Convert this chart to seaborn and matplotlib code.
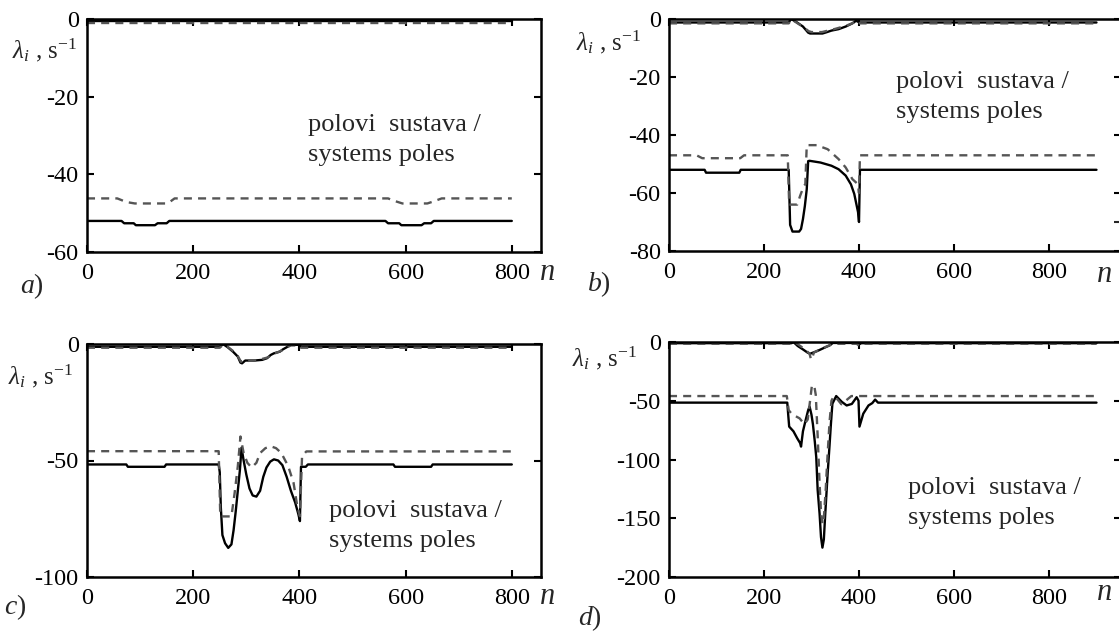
import numpy as np
import pandas as pd
import matplotlib
matplotlib.use("Agg")
import matplotlib.pyplot as plt
import seaborn as sns
from matplotlib.ticker import FixedLocator

# ---------------- data ----------------
# panel a
a_top_solid_n = [0, 800]
a_top_solid_v = [-0.6, -0.6]
a_top_dash_n = [0, 800]
a_top_dash_v = [-1.1, -1.1]
a_low_dash_n = [0, 57, 68, 77, 90, 150, 157, 165, 567, 578, 594, 641, 652, 668, 800]
a_low_dash_v = [-46.2, -46.2, -46.8, -47.2, -47.5, -47.5, -47.0, -46.2, -46.2, -46.8, -47.5, -47.5, -47.0, -46.2, -46.2]
a_low_solid_n = [0, 65, 70, 88, 92, 128, 133, 150, 155, 562, 567, 588, 592, 630, 635, 648, 653, 800]
a_low_solid_v = [-52, -52, -52.6, -52.6, -53.1, -53.1, -52.6, -52.6, -52, -52, -52.6, -52.6, -53.1, -53.1, -52.6, -52.6, -52, -52]

# panel b
b_top_solid_n = [0, 252, 257, 267, 282, 293, 297, 323, 331, 342, 357, 372, 386, 394, 401, 900]
b_top_solid_v = [-1.2, -1.2, 0, -0.9, -2.6, -4.7, -5.0, -5.0, -4.6, -4.0, -3.5, -2.6, -1.5, -0.6, -1.2, -1.2]
b_top_dash_n = [0, 252, 258, 268, 283, 294, 300, 322, 335, 350, 365, 380, 392, 398, 402, 900]
b_top_dash_v = [-1.5, -1.5, -0.2, -1.2, -2.8, -4.2, -4.5, -4.5, -4.0, -3.4, -2.7, -1.9, -1.0, -0.6, -1.5, -1.5]
b_low_dash_n = [0, 58, 70, 150, 158, 250, 253, 270, 276, 284, 287, 290, 311, 334, 357, 372, 386, 398, 400, 402, 900]
b_low_dash_v = [-47, -47, -48, -48, -47, -47, -64, -64, -61, -57.5, -57, -43.5, -43.5, -44.9, -48.3, -51.2, -55.2, -57, -60, -47, -47]
b_low_solid_n = [0, 75, 78, 148, 151, 252, 255, 260, 274, 278, 282, 286, 290, 293, 296, 319, 342, 357, 372, 383, 390, 398, 400, 402, 900]
b_low_solid_v = [-52, -52, -53, -53, -52, -52, -71, -73.3, -73.3, -72.4, -69, -64.5, -58.7, -49, -48.9, -49.5, -50.6, -51.8, -54, -57, -60.3, -66.6, -70, -52, -52]

# panel c
c_top_solid_n = [0, 250, 256, 265, 275, 284, 289, 292, 298, 315, 330, 339, 346, 352, 363, 369, 376, 383, 400, 403, 800]
c_top_solid_v = [-1.2, -1.2, 0, -1.4, -3.3, -5.4, -8.0, -8.3, -7.1, -7.1, -6.8, -6.1, -4.7, -4.0, -3.3, -2.3, -1.4, -0.4, -0.3, -1.2, -1.2]
c_top_dash_n = [0, 250, 257, 265, 275, 284, 290, 300, 320, 340, 352, 365, 376, 384, 400, 403, 800]
c_top_dash_v = [-1.6, -1.6, -0.2, -1.2, -3.0, -5.2, -7.6, -7.3, -7.0, -5.8, -4.2, -3.0, -1.5, -0.6, -0.6, -1.6, -1.6]
c_low_dash_n = [0, 248, 251, 272, 278, 284, 289, 295, 302, 310, 319, 326, 336, 346, 356, 366, 379, 389, 396, 401, 405, 413, 800]
c_low_dash_v = [-46, -46, -74, -74, -64, -52.5, -39.7, -46.8, -51, -53, -51, -46.8, -44.7, -43.9, -44.7, -46.8, -52.5, -59.6, -69.6, -73.9, -48.2, -46.1, -46.1]
c_low_solid_n = [0, 74, 77, 146, 149, 248, 250, 252, 255, 260, 266, 272, 276, 280, 284, 288, 291, 295, 300, 306, 312, 319, 326, 332, 338, 345, 352, 360, 368, 376, 384, 392, 398, 401, 403, 412, 416, 577, 580, 648, 651, 800]
c_low_solid_v = [-51.7, -51.7, -52.7, -52.7, -51.7, -51.7, -55, -70, -82, -85.5, -87.5, -86, -80, -72, -63, -54, -44.5, -50, -56, -62, -65, -65.5, -63, -57, -53, -50.5, -49.5, -50, -52, -57, -63, -68, -73, -76, -52.7, -52.7, -51.7, -51.7, -52.7, -52.7, -51.7, -51.7]

# panel d
d_top_solid_n = [0, 258, 262, 271, 282, 292, 297, 312, 327, 338, 345, 395, 400, 405, 900]
d_top_solid_v = [-1.0, -1.0, 0, -3.4, -6.3, -9.1, -10.0, -7.7, -4.9, -2.9, -0.8, -0.8, -2.0, -1.0, -1.0]
d_top_dash_n = [0, 258, 264, 275, 287, 296, 299, 302, 305, 312, 325, 340, 352, 395, 400, 405, 900]
d_top_dash_v = [-1.5, -1.5, 0, -3, -6.5, -10, -15, -13, -9, -7.5, -5, -2.5, -1.5, -1.5, -3, -1.5, -1.5]
d_low_dash_n = [0, 248, 252, 258, 266, 275, 285, 292, 297, 301, 306, 309, 313, 317, 320, 323, 326, 330, 334, 338, 342, 347, 352, 363, 372, 384, 900]
d_low_dash_v = [-46, -46, -58, -61, -63, -65, -70, -66, -50, -36.6, -37.8, -45, -80, -120, -145, -155, -150, -125, -95, -68, -50, -46, -47.5, -53, -50, -46, -46]
d_low_solid_n = [0, 249, 251, 253, 262, 270, 276, 278, 282, 288, 293, 296, 300, 303, 307, 310, 313, 317, 320, 323, 326, 329, 334, 338, 341, 344, 352, 364, 374, 385, 395, 399, 401, 409, 420, 428, 434, 440, 900]
d_low_solid_v = [-51.6, -51.6, -62, -72, -76, -82, -86, -89, -76, -66, -58, -55, -62, -70, -85, -98, -126, -146, -166, -175, -168, -146, -112, -88, -69, -52.5, -46, -51, -54, -52.7, -47, -50, -72, -61, -54, -52, -49, -51.6, -51.6]

# axis ticks
a_yticks = [0, -20, -40, -60]
b_yticks = [0, -20, -40, -60, -80]
c_yticks = [0, -50, -100]
d_yticks = [0, -50, -100, -150, -200]
xticks = [0, 200, 400, 600, 800]

note_text = "polovi  sustava /\nsystems poles"

# ---------------- style ----------------
sns.set_theme(style="ticks")
plt.rcParams["font.family"] = ["Liberation Serif", "DejaVu Serif"]
plt.rcParams["mathtext.fontset"] = "custom"
plt.rcParams["mathtext.rm"] = "Liberation Serif"
plt.rcParams["mathtext.it"] = "Liberation Serif:italic"
plt.rcParams["mathtext.bf"] = "Liberation Serif:bold"
plt.rcParams["axes.unicode_minus"] = False

W, H = 1119, 634
fig = plt.figure(figsize=(W / 100, H / 100), dpi=100)


def rect(l, r, t, b):
    return [l / W, 1 - b / H, (r - l) / W, (b - t) / H]


SOLID = dict(color="black", lw=1.7)
DASH = dict(color="#555555", lw=1.7, linestyle=(0, (3.4, 2.6)))

panels = [
    dict(pos=rect(87, 541, 19, 252), xmax=855, ylim=(-60, 0), yt=a_yticks,
         lines=[(a_low_solid_n, a_low_solid_v, SOLID), (a_top_solid_n, a_top_solid_v, SOLID),
                (a_low_dash_n, a_low_dash_v, DASH), (a_top_dash_n, a_top_dash_v, DASH)],
         extra=[]),
    dict(pos=rect(669, 1121, 19, 251), xmax=951.6, ylim=(-80, 0), yt=b_yticks,
         lines=[(b_low_solid_n, b_low_solid_v, SOLID), (b_top_solid_n, b_top_solid_v, SOLID),
                (b_low_dash_n, b_low_dash_v, DASH), (b_top_dash_n, b_top_dash_v, DASH)],
         extra=[-70]),
    dict(pos=rect(87, 541, 344, 577), xmax=855, ylim=(-100, 0), yt=c_yticks,
         lines=[(c_low_solid_n, c_low_solid_v, SOLID), (c_top_solid_n, c_top_solid_v, SOLID),
                (c_low_dash_n, c_low_dash_v, DASH), (c_top_dash_n, c_top_dash_v, DASH)],
         extra=[]),
    dict(pos=rect(669, 1121, 342, 577), xmax=951.6, ylim=(-200, 0), yt=d_yticks,
         lines=[(d_low_solid_n, d_low_solid_v, SOLID), (d_top_solid_n, d_top_solid_v, SOLID),
                (d_low_dash_n, d_low_dash_v, DASH), (d_top_dash_n, d_top_dash_v, DASH)],
         extra=[]),
]

for p in panels:
    ax = fig.add_axes(p["pos"])
    for n, v, st in p["lines"]:
        sns.lineplot(x=n, y=v, ax=ax, estimator=None, sort=False, legend=False, **st)
    ax.set_xlim(0, p["xmax"])
    ax.set_ylim(*p["ylim"])
    ax.set_xticks(xticks)
    ax.set_yticks(p["yt"])
    ax.set_xticklabels([str(t) for t in xticks])
    ax.set_yticklabels([str(t) for t in p["yt"]])
    ax.tick_params(direction="in", top=True, right=True, length=5, width=1.5,
                   labelsize=17.5, colors="black")
    ax.tick_params(axis="x", pad=8)
    ax.tick_params(axis="y", pad=6)
    if p["extra"]:
        ax.yaxis.set_minor_locator(FixedLocator(p["extra"]))
        ax.tick_params(axis="y", which="minor", direction="in", left=False, right=True,
                       length=5, width=1.5)
    for s in ax.spines.values():
        s.set_linewidth(1.8)
        s.set_color("black")
    ax.set_xlabel("")
    ax.set_ylabel("")
    ax.set_facecolor("white")


def ftext(x, y, s, **kw):
    fig.text(x / W, 1 - y / H, s, **kw)


ylab = r"$\lambda_{i}$ , s$^{\mathregular{-1}}$"
for (x, y) in [(12, 50), (576, 42), (8, 376), (572, 358)]:
    ftext(x, y, ylab, ha="left", va="center", fontsize=18)

for (x, y, s) in [(20, 286, "a"), (587, 284, "b"), (4, 607, "c"), (578, 618, "d")]:
    ftext(x, y, r"$%s$)" % s, ha="left", va="center", fontsize=20)

for (x, y) in [(539, 273), (1096, 274), (539, 597), (1096, 592)]:
    ftext(x, y, r"$n$", ha="left", va="center", fontsize=22)

for (x, y) in [(308, 140), (896, 97), (329, 526), (908, 503)]:
    ftext(x, y, note_text, ha="left", va="center", fontsize=19, linespacing=1.45)

fig.savefig("out.png", dpi=100, facecolor="white")
